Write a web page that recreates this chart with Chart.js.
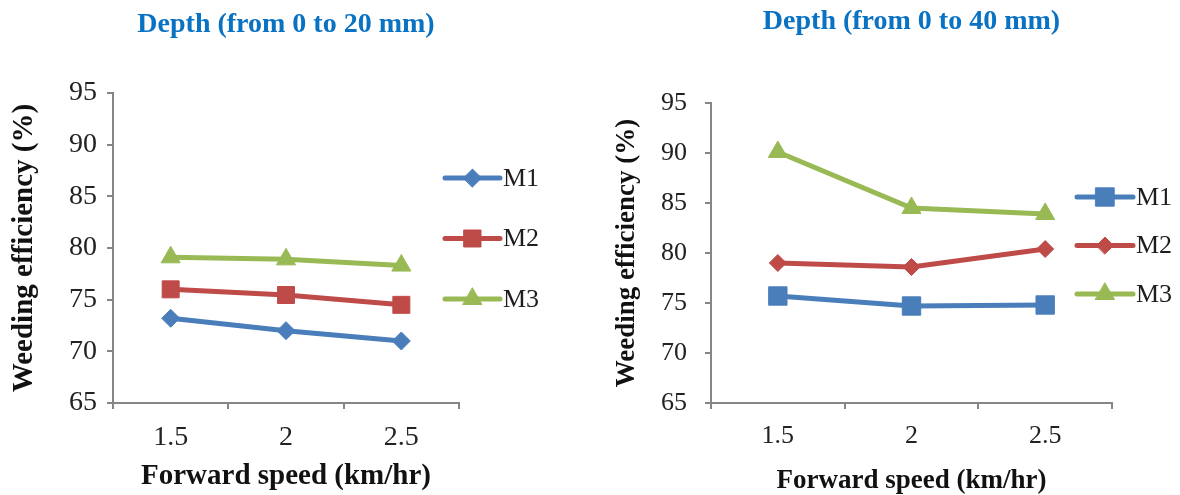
<!DOCTYPE html>
<html>
<head>
<meta charset="utf-8">
<script src="https://cdn.jsdelivr.net/npm/chart.js@4.4.0/dist/chart.umd.min.js"></script>
<style>
  html, body { margin: 0; padding: 0; background: #fff; overflow: hidden; }
  .box { position: absolute; top: 0; width: 590px; height: 495px; }
</style>
</head>
<body>
<div class="box" style="left:0"><canvas id="chart1" width="590" height="495"></canvas></div>
<div class="box" style="left:590px"><canvas id="chart2" width="590" height="495"></canvas></div>
<script>
// Forward speed categories (km/hr)
const speeds = ['1.5', '2', '2.5'];
const seriesNames = ['M1', 'M2', 'M3'];
const yMin = 65, yMax = 95, yStep = 5;

// Weeding efficiency (%) - depth 0 to 20 mm
const shallowM1 = [73.2, 72.0, 71.0];
const shallowM2 = [76.0, 75.45, 74.5];
const shallowM3 = [79.1, 78.9, 78.3];

// Weeding efficiency (%) - depth 0 to 40 mm
const deepM1 = [75.7, 74.7, 74.8];
const deepM2 = [79.0, 78.6, 80.4];
const deepM3 = [90.1, 84.5, 83.9];

const blue = '#4A7EBB', red = '#BE4B48', green = '#98B954';
const axisGrey = '#868686';

// draws the legend beside the plot: short line with the marker in the middle
const sideLegend = {
    id: 'sideLegend',
    afterDraw(chart, args, opts) {
        const ctx = chart.ctx;
        ctx.save();
        chart.data.datasets.forEach((ds, i) => {
            const y = opts.y + i * opts.gap;
            ctx.strokeStyle = ds.borderColor;
            ctx.lineWidth = ds.borderWidth;
            ctx.lineCap = 'round';
            ctx.beginPath();
            ctx.moveTo(opts.x1, y);
            ctx.lineTo(opts.x2, y);
            ctx.stroke();
            ctx.fillStyle = ds.pointBackgroundColor;
            ctx.strokeStyle = ds.pointBorderColor;
            ctx.lineWidth = 1;
            Chart.helpers.drawPoint(ctx, {
                pointStyle: ds.pointStyle,
                radius: ds.pointRadius * opts.markerScale,
                rotation: 0,
                borderWidth: 1
            }, (opts.x1 + opts.x2) / 2, y);
            ctx.fillStyle = '#1e1e1e';
            ctx.font = opts.font;
            ctx.textAlign = 'left';
            ctx.textBaseline = 'middle';
            ctx.fillText(ds.label, opts.textX, y + 1);
        });
        ctx.restore();
    }
};

function series(label, values, color, style, radius) {
    return {
        label: label,
        data: values,
        borderColor: color,
        backgroundColor: color,
        pointBackgroundColor: color,
        pointBorderColor: color,
        borderWidth: 5,
        pointStyle: style,
        pointRadius: radius,
        pointBorderWidth: 1,
        tension: 0
    };
}

function makeChart(id, title, datasets, s) {
    const serif = 'Liberation Serif';
    new Chart(document.getElementById(id), {
        type: 'line',
        data: { labels: speeds, datasets: datasets },
        options: {
            responsive: false,
            animation: false,
            devicePixelRatio: 1,
            layout: { padding: { left: 0, right: s.padRight, top: 0, bottom: 0 } },
            plugins: {
                legend: { display: false },
                tooltip: { enabled: false },
                title: {
                    display: true,
                    text: title,
                    fullSize: false,
                    color: '#0A72C2',
                    font: { family: serif, size: 28, weight: 'bold' },
                    padding: { top: s.titleTop, bottom: s.titleBottom }
                },
                sideLegend: s.legend
            },
            scales: {
                x: {
                    offset: true,
                    grid: { offset: true, drawOnChartArea: false, drawTicks: true, tickLength: 6, color: axisGrey, lineWidth: 2 },
                    border: { display: true, color: axisGrey, width: 2 },
                    ticks: { color: '#222', font: { family: serif, size: s.tickSize }, padding: s.xTickPad },
                    title: {
                        display: true,
                        text: 'Forward speed (km/hr)',
                        color: '#111',
                        font: { family: serif, size: s.axisTitleSize, weight: 'bold', lineHeight: 1 },
                        padding: { top: 0, bottom: s.xTitlePad }
                    },
                    afterFit: (scale) => { scale.height = 92; }
                },
                y: {
                    min: yMin,
                    max: yMax,
                    grid: { drawOnChartArea: false, drawTicks: true, tickLength: 6, color: axisGrey, lineWidth: 2 },
                    border: { display: true, color: axisGrey, width: 2 },
                    ticks: { stepSize: yStep, color: '#222', font: { family: serif, size: s.tickSize }, padding: s.yTickPad },
                    title: {
                        display: true,
                        text: 'Weeding efficiency (%)',
                        color: '#111',
                        font: { family: serif, size: s.axisTitleSize, weight: 'bold', lineHeight: 1 },
                        padding: { top: s.yTitlePad, bottom: 0 }
                    },
                    afterFit: (scale) => { scale.width = s.yWidth; }
                }
            }
        },
        plugins: [sideLegend]
    });
}

makeChart('chart1', 'Depth (from 0 to 20 mm)', [
    series(seriesNames[0], shallowM1, blue, 'rectRot', 9),
    series(seriesNames[1], shallowM2, red, 'rect', 12),
    series(seriesNames[2], shallowM3, green, 'triangle', 11)
], {
    padRight: 131, yWidth: 113, titleTop: 8, titleBottom: 51.4,
    tickSize: 28, axisTitleSize: 29, xTickPad: 12, yTickPad: 10, xTitlePad: 3.5, yTitlePad: 10.5,
    legend: { x1: 445, x2: 500, textX: 503, y: 178, gap: 60.5, markerScale: 1, font: '26px "Liberation Serif"' }
});

makeChart('chart2', 'Depth (from 0 to 40 mm)', [
    series(seriesNames[0], deepM1, blue, 'rect', 13),
    series(seriesNames[1], deepM2, red, 'rectRot', 8.5),
    series(seriesNames[2], deepM3, green, 'triangle', 11)
], {
    padRight: 68, yWidth: 121, titleTop: 5, titleBottom: 64.4,
    tickSize: 26, axisTitleSize: 27, xTickPad: 12, yTickPad: 18, xTitlePad: 0, yTitlePad: 23.5,
    legend: { x1: 487, x2: 543, textX: 546, y: 197, gap: 48.5, markerScale: 1, font: '26px "Liberation Serif"' }
});
</script>
</body>
</html>
